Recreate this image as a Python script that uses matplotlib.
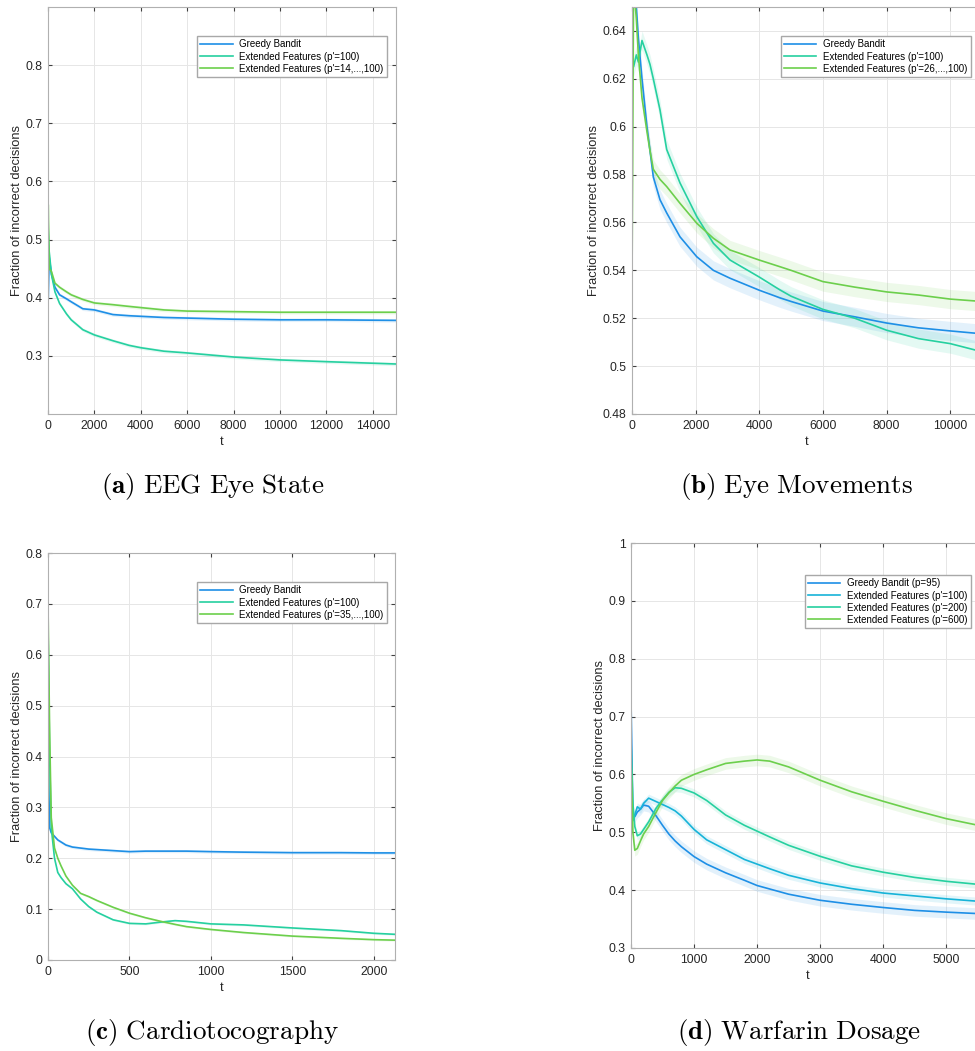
import numpy as np
import matplotlib.pyplot as plt
from matplotlib.ticker import FuncFormatter

# couleurs des courbes
BLUE = "#1e8fe6"
CYAN = "#17b3d8"
TEAL = "#26d0a0"
GREEN = "#6ccf4c"

# (a) EEG Eye State
eeg_t = [0, 10, 50, 150, 300, 500, 800, 1000, 1500, 2000, 2800, 3500, 4000,
         5000, 6000, 8000, 10000, 12000, 15000]
eeg_greedy = [0.63, 0.40, 0.47, 0.44, 0.418, 0.405, 0.398, 0.393, 0.381, 0.379,
              0.371, 0.369, 0.368, 0.366, 0.365, 0.363, 0.362, 0.362, 0.361]
eeg_ext100 = [0.57, 0.52, 0.48, 0.44, 0.41, 0.39, 0.372, 0.362, 0.345, 0.336,
              0.326, 0.318, 0.314, 0.308, 0.305, 0.298, 0.293, 0.290, 0.286]
eeg_extvar = [0.45, 0.56, 0.45, 0.445, 0.425, 0.418, 0.41, 0.405, 0.397, 0.391,
              0.388, 0.385, 0.383, 0.379, 0.377, 0.376, 0.375, 0.375, 0.375]

# (b) Eye Movements
eye_t = [0, 50, 136, 200, 314, 470, 566, 670, 880, 1090, 1509, 2034, 2558,
         3082, 4000, 4654, 5000, 6000, 7000, 8000, 9000, 10000, 11000]
eye_greedy = [0.70, 0.68, 0.65, 0.637, 0.62, 0.60, 0.59, 0.579, 0.5695, 0.564,
              0.554, 0.5457, 0.540, 0.5367, 0.5317, 0.5285, 0.527, 0.523,
              0.5206, 0.518, 0.516, 0.5147, 0.5135]
eye_ext100 = [0.632, 0.625, 0.63, 0.627, 0.636, 0.63, 0.626, 0.62, 0.607,
              0.5905, 0.5765, 0.5625, 0.5513, 0.5443, 0.5372, 0.5318, 0.5292,
              0.5237, 0.52, 0.515, 0.5115, 0.5094, 0.506]
eye_extvar = [0.533, 0.66, 0.645, 0.63, 0.612, 0.598, 0.59, 0.5822, 0.578,
              0.575, 0.568, 0.5597, 0.5534, 0.5485, 0.5443, 0.5415, 0.54,
              0.5353, 0.533, 0.531, 0.5297, 0.528, 0.527]

# (c) Cardiotocography
ctg_t = [0, 10, 20, 40, 60, 80, 110, 150, 200, 250, 300, 400, 500, 600, 700,
         780, 850, 1000, 1200, 1500, 1800, 2000, 2130]
ctg_greedy = [0.42, 0.26, 0.25, 0.243, 0.236, 0.232, 0.226, 0.222, 0.22, 0.218,
              0.217, 0.215, 0.213, 0.214, 0.214, 0.214, 0.214, 0.213, 0.212,
              0.211, 0.211, 0.2105, 0.2105]
ctg_ext100 = [0.66, 0.40, 0.26, 0.20, 0.172, 0.162, 0.15, 0.14, 0.12, 0.105,
              0.094, 0.079, 0.072, 0.071, 0.0748, 0.0774, 0.076, 0.071, 0.069,
              0.063, 0.0577, 0.0525, 0.0505]
ctg_extvar = [0.70, 0.45, 0.28, 0.22, 0.20, 0.185, 0.165, 0.147, 0.131, 0.1246,
              0.117, 0.1036, 0.092, 0.083, 0.0754, 0.07, 0.0656, 0.06, 0.054,
              0.047, 0.0426, 0.04, 0.039]

# (d) Warfarin Dosage
war_t = [0, 30, 60, 100, 150, 200, 280, 400, 500, 600, 700, 800, 1000, 1200,
         1500, 1800, 2000, 2200, 2500, 3000, 3500, 4000, 4500, 5000, 5600]
war_greedy = [0.73, 0.53, 0.527, 0.535, 0.54, 0.547, 0.545, 0.528, 0.512,
              0.497, 0.485, 0.475, 0.458, 0.445, 0.43, 0.417, 0.408, 0.402,
              0.393, 0.3825, 0.3756, 0.37, 0.365, 0.362, 0.359]
war_ext100 = [0.62, 0.52, 0.53, 0.544, 0.54, 0.55, 0.559, 0.553, 0.548, 0.543,
              0.537, 0.528, 0.505, 0.487, 0.47, 0.453, 0.445, 0.437, 0.4257,
              0.4124, 0.4027, 0.395, 0.39, 0.385, 0.380]
war_ext200 = [0.66, 0.55, 0.51, 0.494, 0.497, 0.505, 0.518, 0.542, 0.556,
              0.569, 0.577, 0.576, 0.568, 0.555, 0.53, 0.512, 0.502, 0.492,
              0.4775, 0.4585, 0.442, 0.431, 0.422, 0.4153, 0.409]
war_ext600 = [0.63, 0.50, 0.469, 0.472, 0.485, 0.497, 0.51, 0.535, 0.555,
              0.568, 0.58, 0.59, 0.60, 0.608, 0.619, 0.623, 0.625, 0.623,
              0.613, 0.59, 0.57, 0.5536, 0.538, 0.5236, 0.51]

FIG_W, FIG_H = 975, 1051


def px_axes(fig, left, right, top, bottom):
    """Crée des axes à partir de coordonnées en pixels."""
    ax = fig.add_axes([left / FIG_W, 1 - bottom / FIG_H,
                       (right - left) / FIG_W, (bottom - top) / FIG_H])
    return ax


def style_axes(ax, xlim, ylim, xticks, yticks):
    ax.set_xlim(*xlim)
    ax.set_ylim(*ylim)
    ax.set_xticks(xticks)
    ax.set_yticks(yticks)
    fmt = FuncFormatter(lambda v, p: "{:g}".format(round(v, 4)))
    ax.xaxis.set_major_formatter(fmt)
    ax.yaxis.set_major_formatter(fmt)
    ax.grid(True, color="#e6e6e6", linewidth=0.7)
    ax.set_axisbelow(True)
    for s in ax.spines.values():
        s.set_color("#b0b0b0")
        s.set_linewidth(0.8)
    ax.tick_params(direction="in", top=True, right=True, length=3,
                   color="#404040", labelsize=8.8, labelcolor="#262626",
                   pad=4)
    ax.set_xlabel("t", fontsize=9.3, color="#262626", labelpad=3)
    ax.set_ylabel("Fraction of incorrect decisions", fontsize=9.3,
                  color="#262626", labelpad=2)


def draw(ax, t, y, color, label, band):
    t = np.array(t)
    y = np.array(y)
    ax.fill_between(t, y - band, y + band, color=color, alpha=0.12,
                    linewidth=0)
    ax.plot(t, y, color=color, linewidth=1.2, label=label)


def legend(fig, ax, right, top):
    ax.legend(loc="upper right", bbox_to_anchor=(right / FIG_W, 1 - top / FIG_H),
              bbox_transform=fig.transFigure, borderaxespad=0, fontsize=7,
              frameon=True, fancybox=False, edgecolor="#a8a8a8",
              framealpha=1, handlelength=3.3, labelspacing=0.22,
              borderpad=0.35, handletextpad=0.7)


plt.rcParams["font.family"] = ["Liberation Sans", "DejaVu Sans"]
plt.rcParams["mathtext.fontset"] = "cm"

fig = plt.figure(figsize=(FIG_W / 100, FIG_H / 100), dpi=100)

# (a)
ax = px_axes(fig, 48, 396, 7, 414)
draw(ax, eeg_t, eeg_greedy, BLUE, "Greedy Bandit", 0.003)
draw(ax, eeg_t, eeg_ext100, TEAL, "Extended Features (p'=100)", 0.003)
draw(ax, eeg_t, eeg_extvar, GREEN, "Extended Features (p'=14,...,100)", 0.003)
style_axes(ax, (0, 15000), (0.2, 0.9), np.arange(0, 15000, 2000),
           np.arange(0.3, 0.85, 0.1))
legend(fig, ax, 387, 36)

# (b)
ax = px_axes(fig, 632, 982, 7, 414)
draw(ax, eye_t, eye_greedy, BLUE, "Greedy Bandit", 0.004)
draw(ax, eye_t, eye_ext100, TEAL, "Extended Features (p'=100)", 0.004)
draw(ax, eye_t, eye_extvar, GREEN, "Extended Features (p'=26,...,100)", 0.004)
style_axes(ax, (0, 11000), (0.48, 0.65), np.arange(0, 11000, 2000),
           np.arange(0.48, 0.645, 0.02))
legend(fig, ax, 971, 36)

# (c)
ax = px_axes(fig, 48, 395, 553, 960)
draw(ax, ctg_t, ctg_greedy, BLUE, "Greedy Bandit", 0.003)
draw(ax, ctg_t, ctg_ext100, TEAL, "Extended Features (p'=100)", 0.002)
draw(ax, ctg_t, ctg_extvar, GREEN, "Extended Features (p'=35,...,100)", 0.002)
style_axes(ax, (0, 2130), (0, 0.8), np.arange(0, 2130, 500),
           np.arange(0, 0.85, 0.1))
legend(fig, ax, 387, 582)

# (d)
ax = px_axes(fig, 631, 984, 543, 948)
draw(ax, war_t, war_greedy, BLUE, "Greedy Bandit (p=95)", 0.01)
draw(ax, war_t, war_ext100, CYAN, "Extended Features (p'=100)", 0.007)
draw(ax, war_t, war_ext200, TEAL, "Extended Features (p'=200)", 0.007)
draw(ax, war_t, war_ext600, GREEN, "Extended Features (p'=600)", 0.01)
style_axes(ax, (0, 5600), (0.3, 1.0), np.arange(0, 5600, 1000),
           np.arange(0.3, 1.05, 0.1))
legend(fig, ax, 971, 575)

# légendes des sous-figures
captions = [(213, 487, "a", "EEG\\ Eye\\ State"),
            (797, 487, "b", "Eye\\ Movements"),
            (212, 1032, "c", "Cardiotocography"),
            (799, 1032, "d", "Warfarin\\ Dosage")]
for x, y, letter, name in captions:
    fig.text(x / FIG_W, 1 - y / FIG_H,
             r"$\mathbf{(%s)}\ \mathrm{%s}$" % (letter, name),
             ha="center", va="center", fontsize=19.5, color="black")

fig.savefig("out.png", dpi=100)
plt.close(fig)
